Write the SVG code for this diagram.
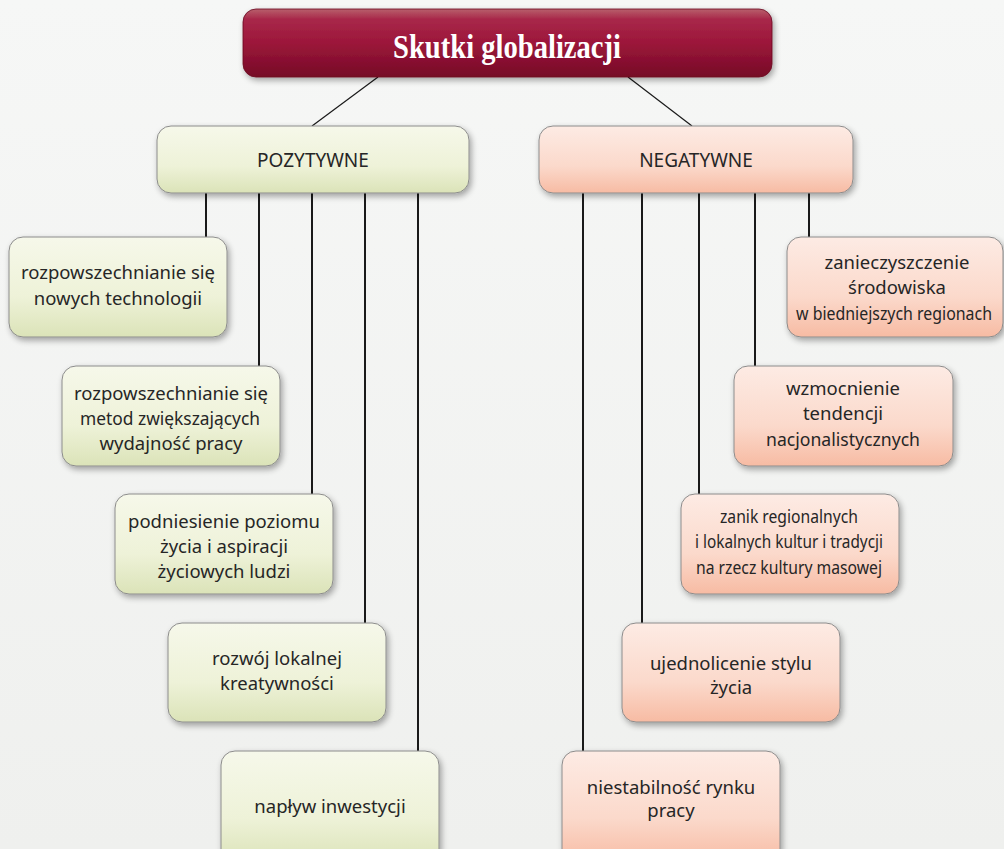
<svg xmlns="http://www.w3.org/2000/svg" width="1004" height="849" viewBox="0 0 1004 849">
<defs>
<linearGradient id="gTitle" x1="0" y1="0" x2="0" y2="1">
<stop offset="0" stop-color="#b8606c"/>
<stop offset="0.15" stop-color="#a8284a"/>
<stop offset="0.5" stop-color="#9c163a"/>
<stop offset="1" stop-color="#760a27"/>
</linearGradient>
<linearGradient id="gGreen" x1="0" y1="0" x2="0" y2="1">
<stop offset="0" stop-color="#f6f8ea"/>
<stop offset="0.6" stop-color="#eef2d8"/>
<stop offset="1" stop-color="#dbe3b8"/>
</linearGradient>
<linearGradient id="gPink" x1="0" y1="0" x2="0" y2="1">
<stop offset="0" stop-color="#fdebe4"/>
<stop offset="0.6" stop-color="#fbd9cb"/>
<stop offset="1" stop-color="#f7bba3"/>
</linearGradient>
<linearGradient id="gBg" x1="0" y1="0" x2="0" y2="1">
<stop offset="0" stop-color="#f6f7f6"/>
<stop offset="1" stop-color="#eff0ee"/>
</linearGradient>
<filter id="sh" x="-10%" y="-10%" width="125%" height="130%">
<feGaussianBlur in="SourceAlpha" stdDeviation="3"/>
<feOffset dx="2" dy="3" result="b"/>
<feComponentTransfer><feFuncA type="linear" slope="0.35"/></feComponentTransfer>
<feMerge><feMergeNode/><feMergeNode in="SourceGraphic"/></feMerge>
</filter>
</defs>
<style>
.g{fill:url(#gGreen);stroke:#8c8c8c;stroke-width:1;filter:url(#sh)}
.p{fill:url(#gPink);stroke:#8c8c8c;stroke-width:1;filter:url(#sh)}
.t{font-family:"Noto Sans","Open Sans",sans-serif;font-size:18.5px;fill:#262626;text-anchor:middle}
.h{font-family:"Noto Sans","Open Sans",sans-serif;font-size:19px;fill:#262626;text-anchor:middle}
.c{stroke:#1a1a1a;stroke-width:2;fill:none}
.d{stroke:#1a1a1a;stroke-width:1.2;fill:none}
</style>
<rect width="1004" height="849" fill="url(#gBg)"/>

<g id="connectors">
<line class="d" x1="378" y1="77" x2="312" y2="126"/>
<line class="d" x1="628" y1="77" x2="692" y2="126"/>
<line class="c" x1="206" y1="193" x2="206" y2="237"/>
<line class="c" x1="259" y1="193" x2="259" y2="366"/>
<line class="c" x1="312" y1="193" x2="312" y2="494"/>
<line class="c" x1="365" y1="193" x2="365" y2="623"/>
<line class="c" x1="418" y1="193" x2="418" y2="751"/>
<line class="c" x1="809" y1="193" x2="809" y2="237"/>
<line class="c" x1="755" y1="193" x2="755" y2="366"/>
<line class="c" x1="699" y1="193" x2="699" y2="494"/>
<line class="c" x1="642" y1="193" x2="642" y2="623"/>
<line class="c" x1="583" y1="193" x2="583" y2="751"/>
</g>

<g id="title">
<rect x="243" y="9" width="529" height="68" rx="13" fill="url(#gTitle)" stroke="#6a0820" stroke-width="0.8" filter="url(#sh)"/>
<text x="507" y="58" font-family="'Liberation Serif',serif" font-weight="bold" font-size="34" fill="#ffffff" text-anchor="middle" textLength="228" lengthAdjust="spacingAndGlyphs">Skutki globalizacji</text>
</g>

<g id="pozytywne">
<rect class="g" x="157" y="126" width="312" height="67" rx="14"/>
<text class="h" x="313" y="167">POZYTYWNE</text>
</g>
<g id="negatywne">
<rect class="p" x="539" y="126" width="314" height="67" rx="14"/>
<text class="h" x="696" y="167">NEGATYWNE</text>
</g>

<g id="p1">
<rect class="g" x="9" y="237" width="218" height="100" rx="14"/>
<text class="t" x="118" y="279">rozpowszechnianie się</text>
<text class="t" x="118" y="305">nowych technologii</text>
</g>
<g id="p2">
<rect class="g" x="62" y="366" width="218" height="100" rx="14"/>
<text class="t" x="171" y="400">rozpowszechnianie się</text>
<text class="t" x="170" y="425" textLength="180" lengthAdjust="spacingAndGlyphs">metod zwiększających</text>
<text class="t" x="171" y="450">wydajność pracy</text>
</g>
<g id="p3">
<rect class="g" x="115" y="494" width="218" height="100" rx="14"/>
<text class="t" x="224" y="528">podniesienie poziomu</text>
<text class="t" x="224" y="553">życia i aspiracji</text>
<text class="t" x="224" y="578">życiowych ludzi</text>
</g>
<g id="p4">
<rect class="g" x="168" y="623" width="218" height="99" rx="14"/>
<text class="t" x="277" y="665">rozwój lokalnej</text>
<text class="t" x="277" y="690">kreatywności</text>
</g>
<g id="p5">
<rect class="g" x="221" y="751" width="218" height="112" rx="14"/>
<text class="t" x="330" y="813">napływ inwestycji</text>
</g>

<g id="n1">
<rect class="p" x="787" y="237" width="216" height="100" rx="14"/>
<text class="t" x="897" y="269">zanieczyszczenie</text>
<text class="t" x="897" y="294">środowiska</text>
<text class="t" x="894" y="320" font-size="16.5" textLength="196" lengthAdjust="spacingAndGlyphs">w biedniejszych regionach</text>
</g>
<g id="n2">
<rect class="p" x="734" y="366" width="219" height="100" rx="14"/>
<text class="t" x="843" y="395">wzmocnienie</text>
<text class="t" x="843" y="420">tendencji</text>
<text class="t" x="843" y="446" textLength="154" lengthAdjust="spacingAndGlyphs">nacjonalistycznych</text>
</g>
<g id="n3">
<rect class="p" x="681" y="494" width="218" height="100" rx="14"/>
<text class="t" x="789" y="523" font-size="17.5" textLength="138" lengthAdjust="spacingAndGlyphs">zanik regionalnych</text>
<text class="t" x="789" y="548" font-size="17.5" textLength="188" lengthAdjust="spacingAndGlyphs">i lokalnych kultur i tradycji</text>
<text class="t" x="789" y="574" font-size="17.5" textLength="186" lengthAdjust="spacingAndGlyphs">na rzecz kultury masowej</text>
</g>
<g id="n4">
<rect class="p" x="622" y="623" width="218" height="99" rx="14"/>
<text class="t" x="731" y="670">ujednolicenie stylu</text>
<text class="t" x="731" y="694">życia</text>
</g>
<g id="n5">
<rect class="p" x="562" y="751" width="218" height="112" rx="14"/>
<text class="t" x="671" y="794">niestabilność rynku</text>
<text class="t" x="671" y="817">pracy</text>
</g>
</svg>
